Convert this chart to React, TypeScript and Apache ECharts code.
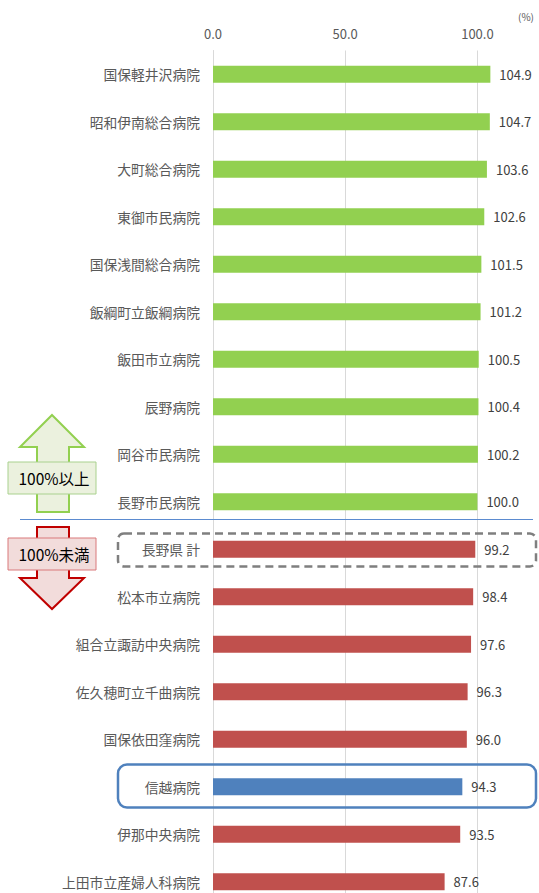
import React, { useEffect, useRef } from "react";
import * as echarts from "echarts";

const categories = [
  "国保軽井沢病院",
  "昭和伊南総合病院",
  "大町総合病院",
  "東御市民病院",
  "国保浅間総合病院",
  "飯綱町立飯綱病院",
  "飯田市立病院",
  "辰野病院",
  "岡谷市民病院",
  "長野市民病院",
  "長野県 計",
  "松本市立病院",
  "組合立諏訪中央病院",
  "佐久穂町立千曲病院",
  "国保依田窪病院",
  "信越病院",
  "伊那中央病院",
  "上田市立産婦人科病院",
];
const values = [104.9, 104.7, 103.6, 102.6, 101.5, 101.2, 100.5, 100.4, 100.2, 100.0, 99.2, 98.4, 97.6, 96.3, 96.0, 94.3, 93.5, 87.6];
const xTicks = [0, 50, 100];

const GREEN = "#92D050";
const RED = "#C0504D";
const BLUE = "#4F81BD";
const FONT = "'Noto Sans CJK JP', 'Noto Sans', sans-serif";

function colorFor(name: string, v: number) {
  if (name === "信越病院") return BLUE;
  return v >= 100 ? GREEN : RED;
}

export default function App() {
  const ref = useRef<HTMLDivElement>(null);
  useEffect(() => {
    if (!ref.current) return;
    const chart = echarts.init(ref.current, null, { renderer: "svg" });
    const upArrow = [[52, 415], [84, 447], [69, 447], [69, 512], [37, 512], [37, 447], [20, 447]];
    const downArrow = [[37, 527], [69, 527], [69, 578], [84, 578], [52, 609], [20, 578], [37, 578]];
    chart.setOption({
      animation: false,
      textStyle: { fontFamily: FONT },
      grid: { left: 213, right: 16.5, top: 50.5, bottom: 14.5, containLabel: false },
      xAxis: {
        type: "value",
        position: "top",
        min: 0,
        max: 125,
        interval: 50,
        axisLine: { show: false },
        axisTick: { show: false },
        axisLabel: {
          color: "#595959",
          fontSize: 13,
          margin: 11,
          fontFamily: FONT,
          formatter: (v: number) => (xTicks.includes(v) ? v.toFixed(1) : ""),
        },
        splitLine: { show: true, lineStyle: { color: "#D9D9D9", width: 1 } },
      },
      yAxis: {
        type: "category",
        inverse: true,
        data: categories,
        axisLine: { show: true, lineStyle: { color: "#D9D9D9" } },
        axisTick: { show: false },
        axisLabel: { color: "#595959", fontSize: 13.8, margin: 13, fontFamily: FONT },
      },
      series: [
        {
          type: "bar",
          barWidth: 17,
          data: values.map((v, i) => ({ value: v, itemStyle: { color: colorFor(categories[i], v) } })),
          label: {
            show: true,
            position: "right",
            distance: 9,
            color: "#404040",
            fontSize: 13,
            fontFamily: FONT,
            formatter: (p: any) => Number(p.value).toFixed(1),
          },
        },
      ],
      graphic: [
        { type: "text", left: 518, top: 11, style: { text: "(%)", fill: "#595959", font: `10px ${FONT}` } },
        { type: "line", shape: { x1: 20, y1: 519.5, x2: 533, y2: 519.5 }, style: { stroke: "#5B8BD0", lineWidth: 1 }, z: 5 },
        { type: "polygon", shape: { points: upArrow }, style: { fill: "#EBF1DE", stroke: GREEN, lineWidth: 2 }, z: 10 },
        { type: "rect", shape: { x: 8, y: 462, width: 88, height: 32 }, style: { fill: "#EBF1DE", stroke: "#A9D18E", lineWidth: 1 }, z: 11 },
        { type: "text", x: 54, y: 478, style: { text: "100%以上", fill: "#000", font: `15.5px ${FONT}`, align: "center", verticalAlign: "middle" }, z: 12 },
        { type: "polygon", shape: { points: downArrow }, style: { fill: "#F2DCDB", stroke: "#C00000", lineWidth: 2 }, z: 10 },
        { type: "rect", shape: { x: 8, y: 538, width: 88, height: 32 }, style: { fill: "#F2DCDB", stroke: "#D9797A", lineWidth: 1 }, z: 11 },
        { type: "text", x: 54, y: 554, style: { text: "100%未満", fill: "#000", font: `15.5px ${FONT}`, align: "center", verticalAlign: "middle" }, z: 12 },
        { type: "rect", shape: { x: 118, y: 533.5, width: 418, height: 33, r: 6 }, style: { fill: "none", stroke: "#7F7F7F", lineWidth: 2.5, lineDash: [8, 5] }, z: 20 },
        { type: "rect", shape: { x: 118, y: 764.5, width: 418, height: 43, r: 9 }, style: { fill: "none", stroke: BLUE, lineWidth: 2.5 }, z: 20 },
      ],
    });
    return () => chart.dispose();
  }, []);
  return (
    <div style={{ position: "absolute", left: 0, top: 0, width: 539, height: 893, overflow: "hidden" }}>
      <div ref={ref} style={{ position: "absolute", left: 0, top: 0, width: 560, height: 920 }} />
    </div>
  );
}
